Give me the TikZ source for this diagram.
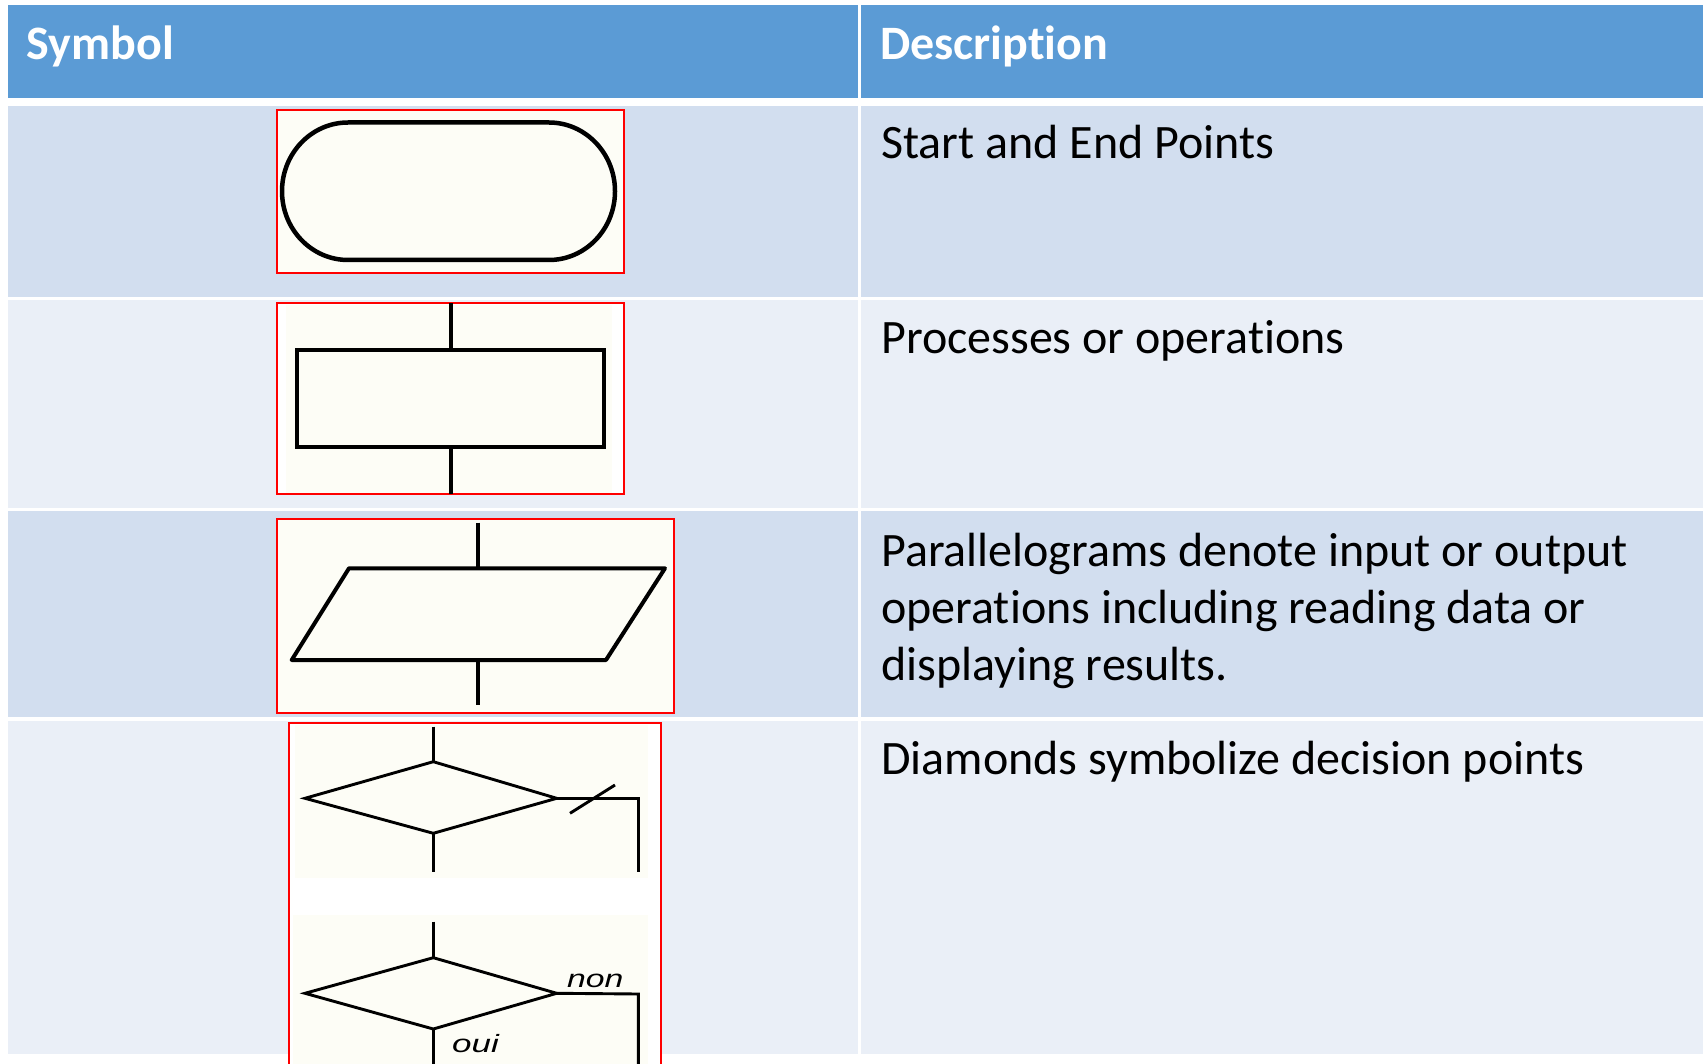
\documentclass[tikz,border=0pt]{standalone}
\usepackage{fontspec}
\setmainfont{Carlito}[Ligatures=NoCommon]
\newfontfamily\labelfont{Liberation Sans}
\definecolor{hdr}{HTML}{5B9BD5}
\definecolor{bandA}{HTML}{D2DEEF}
\definecolor{bandB}{HTML}{EAEFF7}
\definecolor{cream}{HTML}{FDFDF6}
\begin{document}
\begin{tikzpicture}[x=1pt,y=-1pt,
  symbox/.style={draw=red, line width=2pt, inner sep=0pt, outer sep=0pt, anchor=north west},
  desc/.style={anchor=base west, inner sep=0pt, font=\fontsize{48}{58}\selectfont},
  head/.style={anchor=base west, inner sep=0pt, text=white, font=\fontsize{48}{58}\selectfont\bfseries},
  thick4/.style={draw=black, line width=4.5pt},
  thick3/.style={draw=black, line width=4pt},
  thin/.style={draw=black, line width=2.9pt},
  lbl/.style={inner sep=0pt, anchor=base west, font=\labelfont\itshape\fontsize{25}{30}\selectfont}
]
\useasboundingbox (0,0) rectangle (1703,1064);
\fill[white] (0,0) rectangle (1703,1064);
\clip (0,0) rectangle (1703,1064);
% table bands
\fill[hdr]   (8,5)     rectangle (1703,98);
\fill[bandA] (8,106.5) rectangle (1703,296.8);
\fill[bandB] (8,300)   rectangle (1703,508.3);
\fill[bandA] (8,510.8) rectangle (1703,717.3);
\fill[bandB] (8,720.7) rectangle (1703,1054.3);
\fill[white] (857.5,0) rectangle (860.5,1064);
% header text
\node[head] (h1) at (26.5,59.5) {Symbol};
\node[head] (h2) at (880,59.5) {Description};
% descriptions
\node[desc] (d1)  at (881,158.5) {Start and End Points};
\node[desc] (d2)  at (881,353.3) {Processes or operations};
\node[desc] (d3a) at (881,566)   {Parallelograms denote input or output};
\node[desc] (d3b) at (881,623)   {operations including reading data or};
\node[desc] (d3c) at (881,680)   {displaying results.};
\node[desc] (d4)  at (881,774)   {Diamonds symbolize decision points};
% ---- box 1: terminal
\node[symbox, fill=cream, minimum width=347pt, minimum height=163pt] (b1) at (277,110.5) {};
\draw[thick4, fill=cream] (348,122.5) -- (549,122.5)
  arc[start angle=-90, end angle=90, x radius=66, y radius=68.75]
  -- (348,260)
  arc[start angle=90, end angle=270, x radius=66, y radius=68.75] -- cycle;
% ---- box 2: process
\node[symbox, fill=white, minimum width=347pt, minimum height=190.5pt] (b2) at (277,303.5) {};
\fill[cream] (286,305) rectangle (612,492.5);
\node[thick3, inner sep=0pt, minimum width=307.6pt, minimum height=96.7pt] (proc) at (450.5,398.3) {};
\draw[thick3] (proc.north) -- (proc.north |- b2.north);
\draw[thick3] (proc.south) -- (proc.south |- b2.south);
% ---- box 3: input/output
\node[symbox, fill=cream, minimum width=397pt, minimum height=194pt] (b3) at (277.3,518.7) {};
\coordinate (ptl) at (349,568.3);
\coordinate (ptr) at (665,568.3);
\coordinate (pbr) at (606,660);
\coordinate (pbl) at (291.7,660);
\coordinate (pin)  at (477.7,522.7);
\coordinate (ptop) at (477.7,568.3);
\coordinate (pbot) at (477.7,660);
\coordinate (pout) at (477.7,705);
\draw[thick3, line join=round] (ptl) -- (ptr) -- (pbr) -- (pbl) -- cycle;
\draw[thick3] (pin) -- (ptop);
\draw[thick3] (pbot) -- (pout);
% ---- box 4: decisions
\node[symbox, fill=white, minimum width=371.7pt, minimum height=360pt] (b4) at (289.3,723.3) {};
\fill[cream] (295,725) rectangle (648,878);
\fill[cream] (293,915) rectangle (648,1064);
% diamond 1
\coordinate (aL) at (305,798.3);
\coordinate (aT) at (433.3,761.7);
\coordinate (aR) at (556.7,798.3);
\coordinate (aB) at (433.3,833.3);
\coordinate (aIn) at (433.3,726.7);
\coordinate (aOut) at (433.3,871.7);
\coordinate (aC) at (638.3,798.3);
\coordinate (aE) at (638.3,871.7);
\coordinate (s1) at (570,813.3);
\coordinate (s2) at (615,785);
\draw[thin] (aL) -- (aT) -- (aR) -- (aB) -- cycle;
\draw[thin] (aIn) -- (aT);
\draw[thin] (aB) -- (aOut);
\draw[thin] (aR) -- (aC) -- (aE);
\draw[thin] (s1) -- (s2);
% diamond 2
\coordinate (cL) at (305,993.3);
\coordinate (cT) at (433.3,957.7);
\coordinate (cR) at (556.7,993.3);
\coordinate (cB) at (433.3,1029);
\coordinate (cIn) at (433.3,921.7);
\coordinate (cOut) at (433.3,1070);
\coordinate (cC) at (638.3,994);
\coordinate (cE) at (638.3,1070);
\draw[thin] (cL) -- (cT) -- (cR) -- (cB) -- cycle;
\draw[thin] (cIn) -- (cT);
\draw[thin] (cB) -- (cOut);
\draw[thin] (cR) -- (cC) -- (cE);
\node[lbl] (non) at (567,987) {\scalebox{1.35}[1]{non}};
\node[lbl] (oui) at (452,1052.5) {\scalebox{1.4}[1]{oui}};
\end{tikzpicture}
\end{document}
